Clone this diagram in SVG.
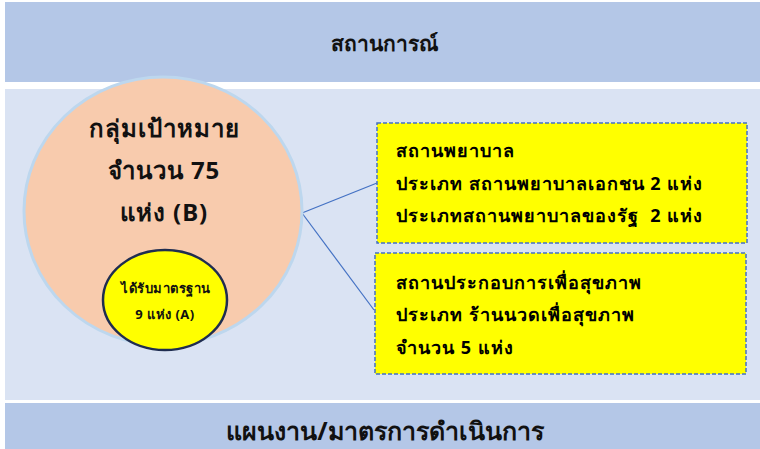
<svg xmlns="http://www.w3.org/2000/svg" width="760" height="449" viewBox="0 0 760 449">
<style>
.band{fill:#B4C7E7}
.mid{fill:#DAE3F3}
.hdr{font-family:"Noto Sans","DejaVu Sans",sans-serif;font-size:21px;font-weight:bold;fill:#111;text-anchor:middle}
.big{font-family:"Noto Sans","DejaVu Sans",sans-serif;font-size:24px;font-weight:bold;fill:#111;text-anchor:middle;letter-spacing:1px}
.sm{font-family:"Noto Sans","DejaVu Sans",sans-serif;font-size:13px;font-weight:bold;fill:#111;text-anchor:middle;letter-spacing:0.5px}
.box{fill:#FFFF00;stroke:#4472C4;stroke-width:1.5;stroke-dasharray:4 2}
.bt{font-family:"Noto Sans","DejaVu Sans",sans-serif;font-size:18px;font-weight:bold;fill:#000;letter-spacing:1px;white-space:pre}
.con{stroke:#4472C4;stroke-width:1.2;fill:none}
</style>
<rect width="760" height="449" fill="#FFFFFF"/>
<g id="situation">
<rect class="band" x="5" y="2" width="755" height="80"/>
<text class="hdr" x="384" y="51">สถานการณ์</text>
</g>
<g id="panel">
<rect class="mid" x="5" y="89" width="755" height="311"/>
</g>
<g id="plan">
<rect class="band" x="5" y="403" width="755" height="46"/>
<text class="hdr" x="385" y="440" style="font-size:25px">แผนงาน/มาตรการดำเนินการ</text>
</g>
<g id="connectors">
<line class="con" x1="302" y1="213" x2="377" y2="183"/>
<line class="con" x1="302" y1="213" x2="374" y2="310"/>
</g>
<g id="target">
<ellipse cx="163" cy="211" rx="139" ry="134" fill="#F8CBAD" stroke="#BDD7EE" stroke-width="3"/>
<text class="big" x="164" y="137">กลุ่มเป้าหมาย</text>
<text class="big" x="164" y="179">จำนวน 75</text>
<text class="big" x="164" y="221">แห่ง (B)</text>
</g>
<g id="standard">
<ellipse cx="165" cy="300" rx="62" ry="50" fill="#FFFF00" stroke="#1F2D50" stroke-width="2.5"/>
<text class="sm" x="166" y="293">ได้รับมาตรฐาน</text>
<text class="sm" x="165" y="319">9 แห่ง (A)</text>
</g>
<g id="hospital">
<rect class="box" x="377" y="123" width="370" height="120"/>
<text class="bt" x="396" y="157">สถานพยาบาล</text>
<text class="bt" x="396" y="190">ประเภท สถานพยาบาลเอกชน 2 แห่ง</text>
<text class="bt" x="396" y="222">ประเภทสถานพยาบาลของรัฐ  2 แห่ง</text>
</g>
<g id="wellness">
<rect class="box" x="375" y="253" width="371" height="121"/>
<text class="bt" x="396" y="289">สถานประกอบการเพื่อสุขภาพ</text>
<text class="bt" x="396" y="321">ประเภท ร้านนวดเพื่อสุขภาพ</text>
<text class="bt" x="396" y="354">จำนวน 5 แห่ง</text>
</g>
</svg>
